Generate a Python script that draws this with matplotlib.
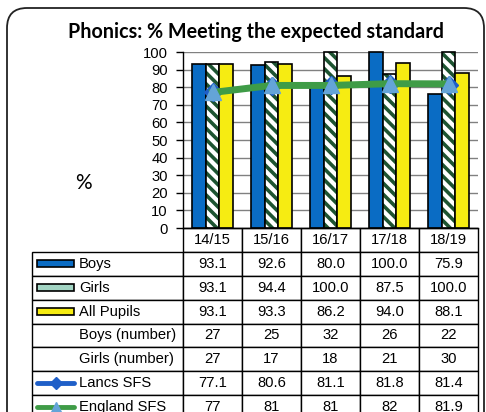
import numpy as np
import matplotlib
matplotlib.use('Agg')
import matplotlib.pyplot as plt
from matplotlib.patches import FancyBboxPatch, Rectangle
from matplotlib.transforms import IdentityTransform

years = ['14/15', '15/16', '16/17', '17/18', '18/19']
boys = [93.1, 92.6, 80.0, 100.0, 75.9]
girls = [93.1, 94.4, 100.0, 87.5, 100.0]
all_pupils = [93.1, 93.3, 86.2, 94.0, 88.1]
boys_num = [27, 25, 32, 26, 22]
girls_num = [27, 17, 18, 21, 30]
lancs = [77.1, 80.6, 81.1, 81.8, 81.4]
england = [77, 81, 81, 82, 81.9]
england_txt = ['77', '81', '81', '82', '81.9']
row_labels = ['Boys', 'Girls', 'All Pupils', 'Boys (number)', 'Girls (number)',
              'Lancs SFS', 'England SFS']

BLUE = '#0a6cc4'
YELLOW = '#f6ec12'
HATCH_GREEN = '#1d5431'
GREEN = '#3f9c47'
TRI = '#64a4d8'
LANCS = '#1f5fc8'

plt.rcParams['font.family'] = ['Liberation Sans', 'DejaVu Sans']
plt.rcParams['hatch.linewidth'] = 2.6

W, H = 486, 412
fig = plt.figure(figsize=(W / 100, H / 100), dpi=100)


def px(x0, y0, x1, y1):
    # pixel box, origin top-left -> figure fraction rect
    return [x0 / W, 1 - y1 / H, (x1 - x0) / W, (y1 - y0) / H]


# rounded outer frame
frame = FancyBboxPatch((7, -30), 477, H - 8 + 30,
                       boxstyle='round,pad=0,rounding_size=20',
                       transform=IdentityTransform(), fill=False,
                       ec='#222222', lw=1.3)
fig.patches.append(frame)

ax = fig.add_axes(px(183, 52, 478, 228))
x = np.arange(len(years))
bw = 0.228
ax.bar(x - bw, boys, bw, color=BLUE, edgecolor='black', lw=1.2, zorder=2, clip_on=False)
ax.bar(x, girls, bw, color='white', edgecolor=HATCH_GREEN, hatch='\\\\\\', lw=0, zorder=2)
ax.bar(x, girls, bw, fill=False, edgecolor='black', lw=1.2, zorder=2, clip_on=False)
ax.bar(x + bw, all_pupils, bw, color=YELLOW, edgecolor='black', lw=1.2, zorder=2, clip_on=False)
ax.plot(x, lancs, color=LANCS, lw=3, marker='D', ms=9, zorder=3)
ax.plot(x, england, color=GREEN, lw=5, marker='^', ms=11, mfc=TRI, mec=TRI, zorder=4)

ax.set_xlim(-0.5, len(years) - 0.5)
ax.set_ylim(0, 100)
ax.set_yticks(range(0, 101, 10))
ax.set_xticks([])
ax.yaxis.grid(True, color='#808080', lw=1)
ax.set_axisbelow(True)
for s in ['top', 'right']:
    ax.spines[s].set_visible(False)
ax.spines['left'].set_linewidth(1.0)
ax.spines['bottom'].set_linewidth(1.0)
ax.tick_params(axis='y', length=5, width=1, pad=6, labelsize=10.6)

# data table under the chart
cell_text = [[f'{v:.1f}' for v in boys],
             [f'{v:.1f}' for v in girls],
             [f'{v:.1f}' for v in all_pupils],
             [str(v) for v in boys_num],
             [str(v) for v in girls_num],
             [f'{v:.1f}' for v in lancs],
             england_txt]
tb = ax.table(cellText=cell_text, rowLabels=row_labels, colLabels=years,
              colWidths=[59] * 5, rowLoc='left', cellLoc='center',
              bbox=[0, -191 / 176, 1, 191 / 176])
tb._autoColumns = []
tb.auto_set_font_size(False)
tb.set_fontsize(10.6)
for (r, c), cell in tb.get_celld().items():
    cell.set_linewidth(1.0)
    cell.set_edgecolor('black')
    cell.set_height(1)
    if c == -1:
        cell.set_width(151)
        cell.PAD = 47 / 151
tb.set_clip_on(False)

# legend keys in the label column
kax = fig.add_axes(px(32, 228, 183, 419))
kax.set_xlim(0, 151)
kax.set_ylim(8, 0)
kax.axis('off')
kax.add_patch(Rectangle((5, 1.5 - 0.15), 37, 0.3, fc=BLUE, ec='black', lw=1.2))
kax.add_patch(Rectangle((5, 2.5 - 0.15), 37, 0.3, fc='#a3d5c4', ec='black', lw=1.2))
kax.add_patch(Rectangle((5, 3.5 - 0.15), 37, 0.3, fc=YELLOW, ec='black', lw=1.2))
kax.plot([5, 23.5, 42], [6.5] * 3, color=LANCS, lw=3.5, marker='D', ms=6,
         markevery=[1], solid_capstyle='round')
kax.plot([5, 23.5, 42], [7.5] * 3, color=GREEN, lw=3.5, marker='^', ms=7,
         mfc=TRI, mec=TRI, markevery=[1], solid_capstyle='round')

fig.text(83 / W, 1 - 183 / H, '%', fontsize=15, family='Lato',
         ha='center', va='center')

title = fig.text(256 / W, 1 - 32 / H, 'Phonics: % Meeting the expected standard',
                 fontsize=14, family='Lato', weight='bold', ha='center', va='center')
fig.canvas.draw()
wpx = title.get_window_extent().width
title.set_fontsize(14 * 377 / wpx)

fig.savefig('out.png', dpi=100)
